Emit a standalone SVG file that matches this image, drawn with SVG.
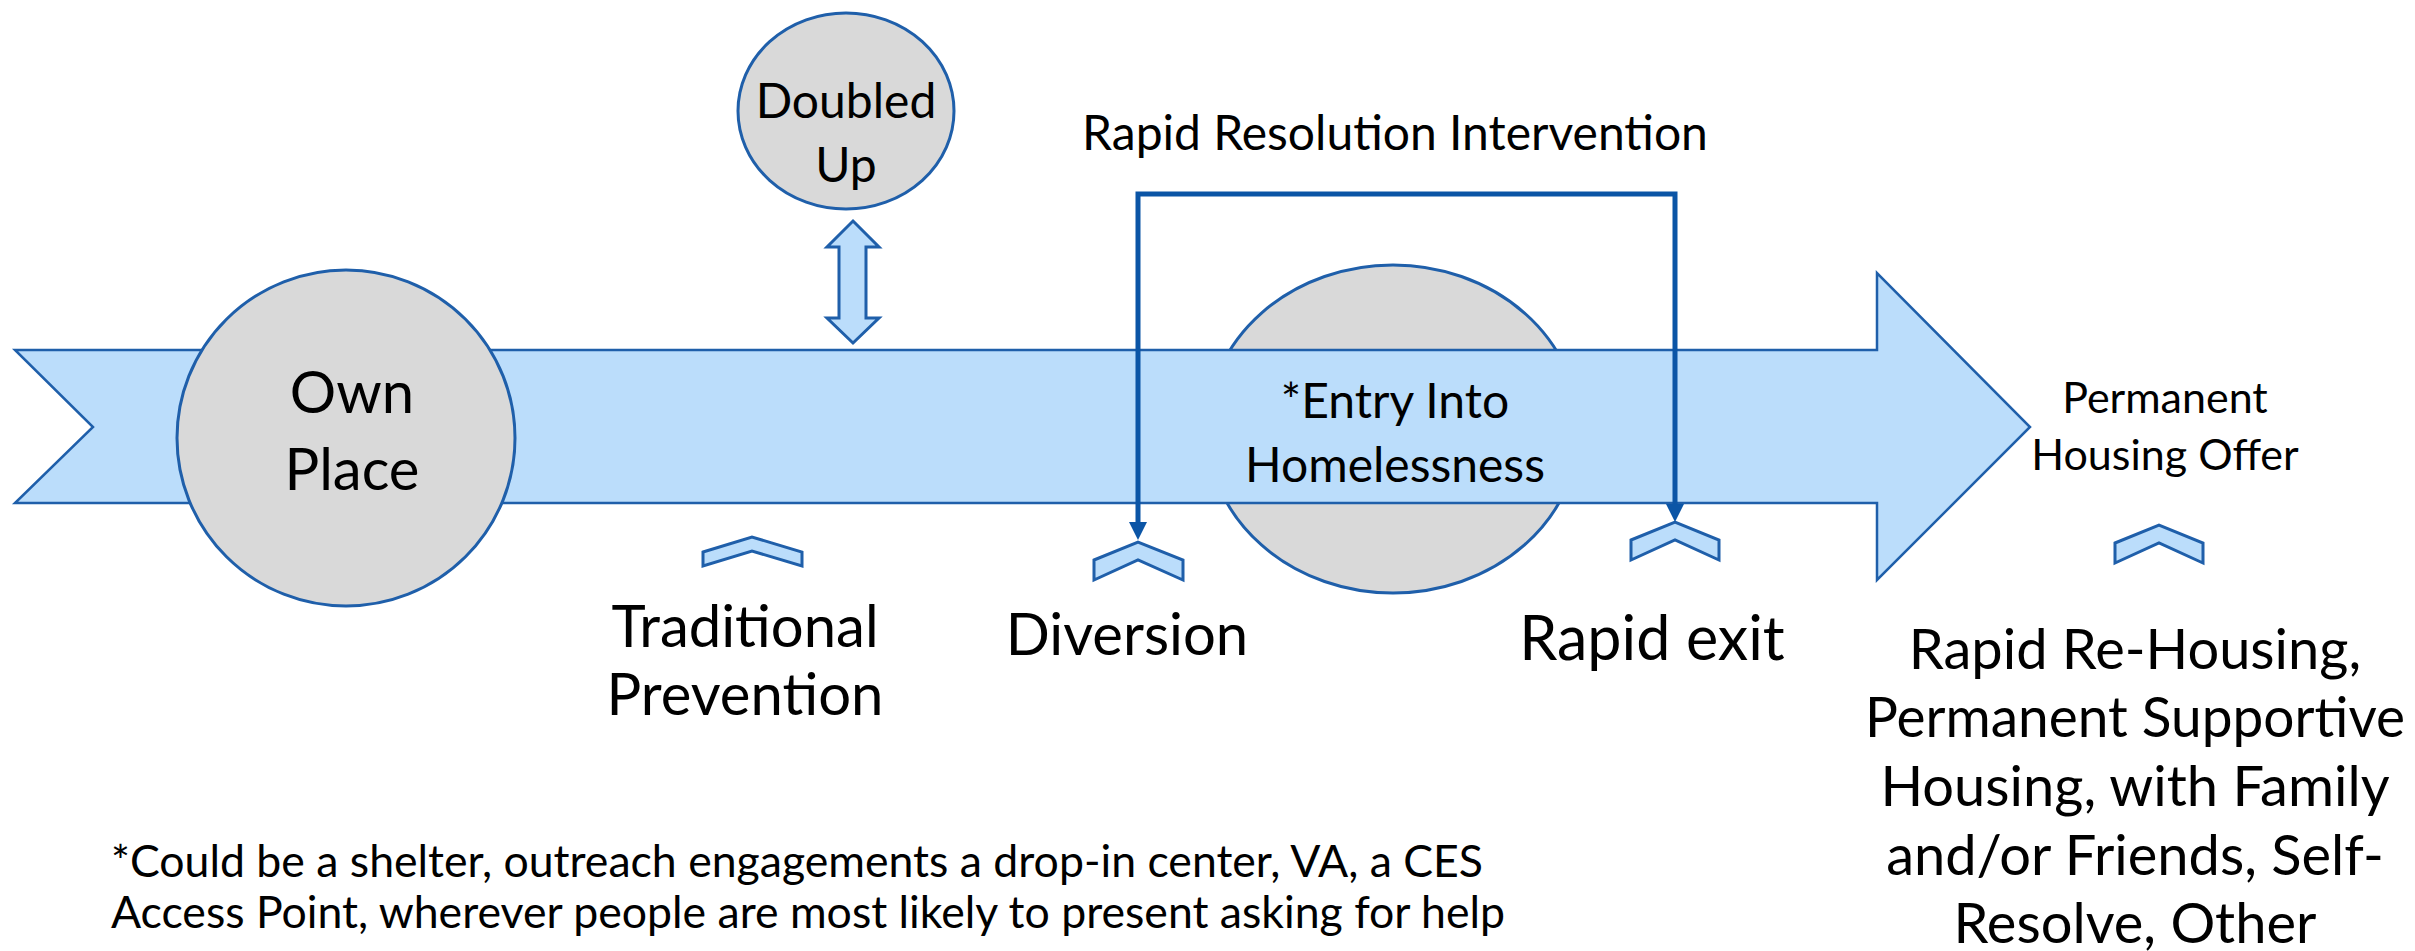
<svg xmlns="http://www.w3.org/2000/svg" width="2415" height="951" viewBox="0 0 2415 951">
  <style>
    .band { fill: #BBDDFB; stroke: #1F5FAA; stroke-width: 2.5; stroke-linejoin: miter; }
    .node { fill: #D9D9D9; stroke: #1F5FAA; stroke-width: 3; }
    .chev { fill: #BBDDFB; stroke: #1F5FAA; stroke-width: 3; stroke-linejoin: miter; }
    .conn { fill: none; stroke: #0B55A6; stroke-width: 5; }
    text { font-family: Lato, "Open Sans", sans-serif; fill: #000; text-anchor: middle; }
    .t60 { font-size: 58px; }
    .t56 { font-size: 56px; }
    .t51 { font-size: 48px; }
    .t45 { font-size: 43px; }
    .note { font-size: 44px; text-anchor: start; }
  </style>
  <defs>
    <marker id="tip" viewBox="0 0 10 10" markerUnits="userSpaceOnUse" markerWidth="18" markerHeight="18" refX="5" refY="5" orient="auto-start-reverse">
      <path d="M0,0 L10,5 L0,10 z" fill="#0B55A6"/>
    </marker>
  </defs>

  <!-- shelter / entry point sits behind the flow band -->
  <g id="entry">
    <ellipse class="node" cx="1393" cy="429" rx="186" ry="164"/>
  </g>

  <!-- main flow band -->
  <g id="flow">
    <polygon class="band" points="15,350 1877,350 1877,273 2030,427 1877,580 1877,503 15,503 93,427"/>
  </g>

  <g id="entry-label">
    <text class="t51" x="1395" y="418">*Entry Into</text>
    <text class="t51" x="1395" y="482">Homelessness</text>
  </g>

  <g id="own-place">
    <ellipse class="node" cx="346" cy="438" rx="169" ry="168"/>
    <text class="t60" x="352" y="413">Own</text>
    <text class="t60" x="352" y="490">Place</text>
  </g>

  <g id="doubled-up">
    <ellipse class="node" cx="846" cy="111" rx="108" ry="98"/>
    <text class="t51" x="846" y="118">Doubled</text>
    <text class="t51" x="846" y="182">Up</text>
  </g>

  <g id="doubled-link">
    <polygon class="chev" points="853,221 879,247 866,247 866,318 879,318 853,343 827,318 839,318 839,247 827,247"/>
  </g>

  <g id="traditional-prevention">
    <polygon class="chev" points="703,552 752,537 802,552 802,566 752,551 703,566"/>
    <text class="t60" x="745" y="647">Traditional</text>
    <text class="t60" x="745" y="715">Prevention</text>
  </g>

  <g id="diversion">
    <polygon class="chev" points="1094,560 1138,542 1183,560 1183,580 1138,560 1094,580"/>
    <text class="t60" x="1127" y="655">Diversion</text>
  </g>

  <g id="rapid-exit">
    <polygon class="chev" points="1631,540 1675,522 1719,540 1719,560 1675,540 1631,560"/>
    <text class="t60" x="1652" y="660" style="font-size:61px">Rapid exit</text>
  </g>

  <g id="permanent-housing">
    <text class="t45" x="2165" y="413">Permanent</text>
    <text class="t45" x="2165" y="470">Housing Offer</text>
    <polygon class="chev" points="2115,543 2159,525 2203,543 2203,563 2159,543 2115,563"/>
  </g>

  <g id="outcomes">
    <text class="t56" x="2135" y="669">Rapid Re-Housing,</text>
    <text class="t56" x="2135" y="737" textLength="540" lengthAdjust="spacingAndGlyphs">Permanent Supportive</text>
    <text class="t56" x="2135" y="806">Housing, with Family</text>
    <text class="t56" x="2135" y="875">and/or Friends, Self-</text>
    <text class="t56" x="2135" y="943">Resolve, Other</text>
  </g>

  <!-- rapid resolution bracket: diversion before entry, rapid exit after -->
  <g id="connectors">
    <path class="conn" d="M1138,531 V194 H1675 V513" marker-start="url(#tip)" marker-end="url(#tip)"/>
  </g>
  <g id="rapid-resolution">
    <text class="t51" x="1395" y="150">Rapid Resolution Intervention</text>
  </g>

  <g id="footnote">
    <text class="note" x="111" y="877" textLength="1372" lengthAdjust="spacingAndGlyphs">*Could be a shelter, outreach engagements a drop-in center, VA, a CES</text>
    <text class="note" x="111" y="928" textLength="1394" lengthAdjust="spacingAndGlyphs">Access Point, wherever people are most likely to present asking for help</text>
  </g>
</svg>
